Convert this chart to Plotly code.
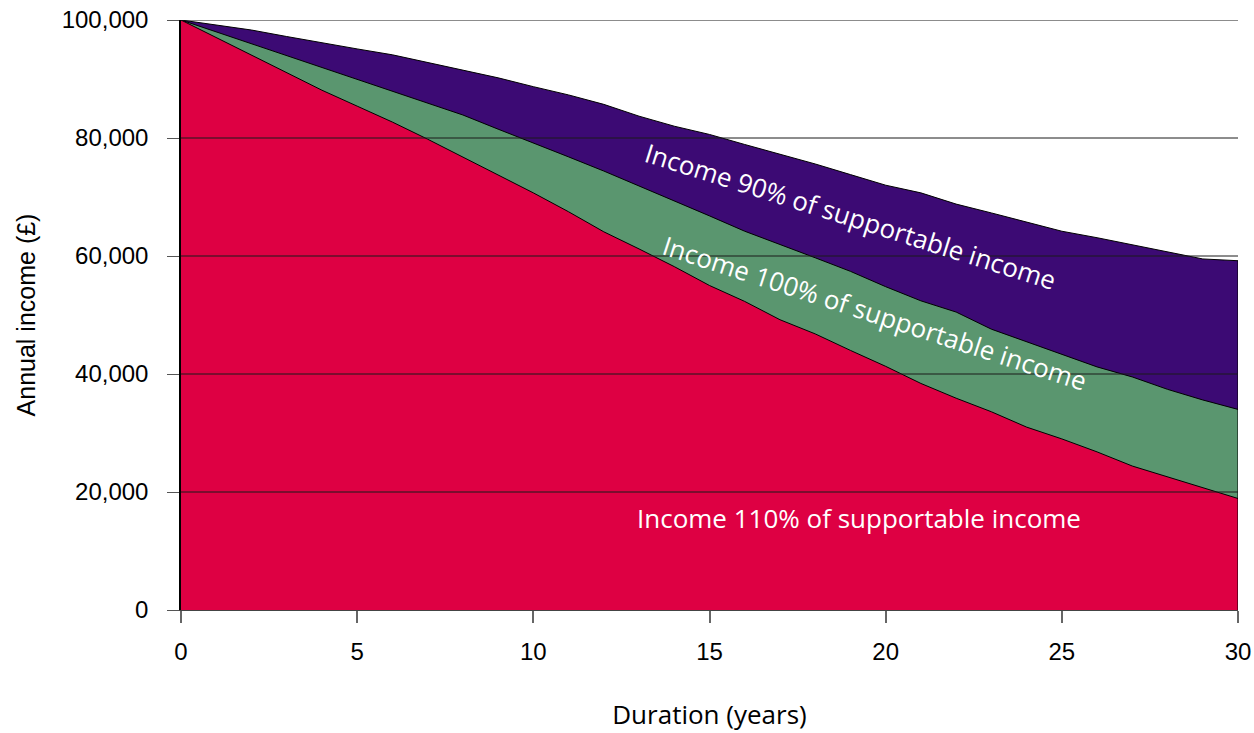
import plotly.graph_objects as go

# Projected annual income (£) by duration, for three drawdown levels
years = list(range(0, 31))

income_90 = [100000, 99200, 98300, 97200, 96100, 95100, 94100, 92800, 91500, 90200,
             88700, 87300, 85700, 83700, 82000, 80600, 78900, 77300, 75600, 73800,
             72000, 70700, 68800, 67300, 65800, 64200, 63100, 61900, 60600, 59500,
             59200]

income_100 = [100000, 98000, 96000, 94000, 92000, 90000, 87900, 85900, 83900, 81500,
              79200, 76800, 74400, 71900, 69400, 66800, 64200, 62000, 59700, 57400,
              54800, 52400, 50500, 47600, 45500, 43300, 41200, 39500, 37400, 35600,
              34000]

income_110 = [100000, 97000, 94000, 91000, 88100, 85400, 82700, 79800, 76800, 73700,
              70700, 67500, 64100, 61200, 58200, 55000, 52300, 49200, 46800, 44000,
              41300, 38400, 35900, 33600, 31000, 29000, 26800, 24400, 22600, 20800,
              18900]

series_labels = [
    "Income 90% of supportable income",
    "Income 100% of supportable income",
    "Income 110% of supportable income",
]
series_colors = ["#3c0a74", "#5a966f", "#de0043"]

y_ticks = [0, 20000, 40000, 60000, 80000, 100000]
x_ticks = [0, 5, 10, 15, 20, 25, 30]

fig = go.Figure()

# Draw the highest series first so the lower ones sit on top of it
for label, values, color in zip(series_labels,
                                [income_90, income_100, income_110],
                                series_colors):
    xs = years + [years[-1]]
    ys = values + [0]
    fig.add_trace(go.Scatter(
        x=xs, y=ys, mode="lines", name=label,
        line=dict(color="black", width=1),
        fill="tozeroy", fillcolor=color,
        hoverinfo="skip", showlegend=False,
    ))

# Horizontal gridlines drawn over the filled areas
for v in y_ticks[1:]:
    fig.add_shape(type="line", xref="paper", x0=0, x1=1, yref="y", y0=v, y1=v,
                  line=dict(color="#1a1a1a", width=1), layer="above")

label_font = dict(family="Open Sans", size=26, color="white")
fig.add_annotation(x=18.99, y=66700, text=series_labels[0], showarrow=False,
                   textangle=17.5, font=label_font,
                   xanchor="center", yanchor="middle")
fig.add_annotation(x=19.70, y=50400, text=series_labels[1], showarrow=False,
                   textangle=18, font=label_font,
                   xanchor="center", yanchor="middle")
fig.add_annotation(x=19.24, y=15600, text=series_labels[2], showarrow=False,
                   font=label_font, xanchor="center", yanchor="middle")

fig.update_layout(
    width=1254, height=733,
    margin=dict(l=181, r=16, t=20, b=123),
    paper_bgcolor="white", plot_bgcolor="white",
    font=dict(family="Liberation Sans, Arial, sans-serif", size=24, color="black"),
    xaxis=dict(
        range=[0, 30], tickvals=x_ticks, ticks="outside", ticklen=12,
        tickcolor="#666666", tickwidth=1.5, showgrid=False, zeroline=False,
        showline=True, linecolor="#444444", linewidth=1,
        ticklabelstandoff=8, automargin=False,
        title=dict(text="Duration (years)",
                   font=dict(family="Open Sans", size=26), standoff=42),
    ),
    yaxis=dict(
        range=[0, 100000], tickvals=y_ticks, tickformat=",d",
        ticks="outside", ticklen=12, tickcolor="#555555", tickwidth=1,
        showgrid=False, zeroline=False,
        showline=True, linecolor="black", linewidth=1.5,
        ticklabelstandoff=14, automargin=False,
        title=dict(text="Annual income (£)",
                   font=dict(family="Liberation Sans, Arial, sans-serif", size=25),
                   standoff=19),
    ),
)

fig.write_html("out.html")
